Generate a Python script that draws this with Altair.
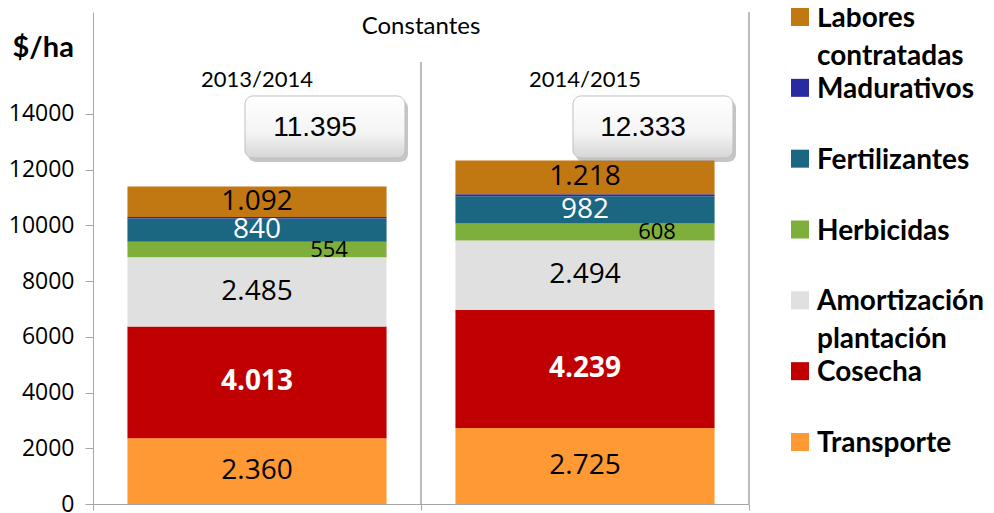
import altair as alt
import pandas as pd

years = ["2013/2014", "2014/2015"]
categories = ["Transporte", "Cosecha", "Amortización plantación", "Herbicidas",
              "Fertilizantes", "Madurativos", "Labores contratadas"]
values_1314 = [2360, 4013, 2485, 554, 840, 51, 1092]
values_1415 = [2725, 4239, 2494, 608, 982, 67, 1218]
totals = [11395, 12333]
total_labels = ["11.395", "12.333"]
colors = ["#FF9933", "#C00000", "#E0E0E0", "#7FAF3B", "#1B6680", "#2A2AA0", "#C27812"]
y_ticks = [0, 2000, 4000, 6000, 8000, 10000, 12000, 14000]
title_text = "Constantes"

rows = []
for yr, vals in zip(years, [values_1314, values_1415]):
    for i, (c, v) in enumerate(zip(categories, vals)):
        rows.append({"year": yr, "category": c, "value": v, "order": i})
df = pd.DataFrame(rows)
df_tot = pd.DataFrame({"year": years, "total": totals, "lbl": total_labels})
df_years = pd.DataFrame({"year": years})
df_title = pd.DataFrame({"year": [years[1]], "t": [title_text]})

Y_TOP = 17660
yscale = alt.Scale(domain=[0, Y_TOP], nice=False, zero=True)
xscale = alt.Scale(domain=years, paddingInner=0, paddingOuter=0)
GRAY = "#A6A6A6"
NUMFONT = "Open Sans"

xaxis = alt.Axis(labels=False, title=None, ticks=True, tickBand="extent", tickSize=6,
                 tickColor=GRAY, domainColor=GRAY, grid=False)
yaxis = alt.Axis(values=y_ticks, grid=False, domainColor=GRAY, tickColor=GRAY, tickSize=8,
                 labelFont=NUMFONT, labelFontSize=23, labelColor="black", labelPadding=11,
                 format="d", title="$/ha", titleAngle=0, titleX=-81, titleY=35,
                 titleAlign="left", titleBaseline="middle", titleFont="Lato",
                 titleFontSize=29, titleFontWeight="bold", titleColor="black")

X = alt.X("year:N", scale=xscale, axis=xaxis)
X0 = alt.X("year:N", scale=xscale, axis=xaxis, bandPosition=0)
X1 = alt.X("year:N", scale=xscale, axis=xaxis, bandPosition=1)
color = alt.Color("category:N", scale=alt.Scale(domain=categories, range=colors), legend=None)


def Yf(field):
    return alt.Y(field, scale=yscale, axis=yaxis)


def Yd(v):
    return alt.YDatum(v, scale=yscale, axis=yaxis)


base = alt.Chart(df).transform_stack(
    stack="value", groupby=["year"], as_=["y0", "y1"], sort=[alt.SortField("order")]
).transform_calculate(
    mid="(datum.y0 + datum.y1) / 2",
    lbl="replace(format(datum.value, ','), ',', '.')"
)

bars = base.mark_bar(width=alt.RelativeBandSize(0.79)).encode(
    x=X, y=Yf("y0:Q"), y2="y1:Q", color=color
)

Ymid = Yf("mid:Q")
txt_black = base.transform_filter(
    alt.FieldOneOfPredicate(field="category", oneOf=["Transporte", "Amortización plantación", "Labores contratadas"])
).mark_text(font=NUMFONT, fontSize=28, color="black", baseline="middle").encode(x=X, y=Ymid, text="lbl:N")
txt_white = base.transform_filter(alt.datum.category == "Fertilizantes").mark_text(
    font=NUMFONT, fontSize=28, color="white", baseline="middle").encode(x=X, y=Ymid, text="lbl:N")
txt_bold = base.transform_filter(alt.datum.category == "Cosecha").mark_text(
    font=NUMFONT, fontSize=28, fontWeight="bold", color="white", baseline="middle").encode(x=X, y=Ymid, text="lbl:N")
txt_herb = base.transform_filter(alt.datum.category == "Herbicidas").mark_text(
    font=NUMFONT, fontSize=22, color="black", baseline="middle", xOffset=72).encode(x=X, y=Ymid, text="lbl:N")

box_path = ("M -0.9 -0.3875 L 0.9 -0.3875 A 0.1 0.1 0 0 1 1 -0.2875 L 1 0.2875 "
            "A 0.1 0.1 0 0 1 0.9 0.3875 L -0.9 0.3875 A 0.1 0.1 0 0 1 -1 0.2875 "
            "L -1 -0.2875 A 0.1 0.1 0 0 1 -0.9 -0.3875 Z")
tot_base = alt.Chart(df_tot).transform_joinaggregate(maxT="max(total)").transform_calculate(
    by="datum.maxT + 1200")
Yby = Yf("by:Q")
shadow = tot_base.mark_point(shape=box_path, size=25600, filled=True, color="#7F7F7F",
                             opacity=0.45, xOffset=71, yOffset=4).encode(x=X, y=Yby)
grad = alt.LinearGradient(gradient="linear", x1=0, y1=0, x2=0, y2=1,
                          stops=[alt.GradientStop(color="#FFFFFF", offset=0),
                                 alt.GradientStop(color="#F4F4F4", offset=0.6),
                                 alt.GradientStop(color="#D6D6D6", offset=1)])
box = tot_base.mark_point(shape=box_path, size=25600, filled=True, fill=grad, opacity=1,
                          stroke="#BFBFBF", strokeWidth=1, xOffset=68).encode(x=X, y=Yby)
box_txt = tot_base.mark_text(font="Liberation Sans", fontSize=28, color="black",
                             baseline="middle", xOffset=58, dy=1).encode(x=X, y=Yby, text="lbl:N")

headers = alt.Chart(df_years).mark_text(font="Lato", fontSize=22, color="black",
                                        baseline="middle").encode(
    x=X, y=Yd(15220), text="year:N")
title = alt.Chart(df_title).mark_text(font="Lato", fontSize=24, color="black",
                                      baseline="middle").encode(
    x=X0, y=Yd(17120), text="t:N")

rule_mid = alt.Chart(df_title).mark_rule(color=GRAY, strokeWidth=1.5).encode(
    x=X0, y=Yd(15865), y2=alt.datum(0))
rule_right = alt.Chart(df_title).mark_rule(color=GRAY, strokeWidth=1.5).encode(
    x=X1, y=Yd(Y_TOP), y2=alt.datum(0))

main = alt.layer(bars, rule_mid, rule_right, txt_black, txt_white, txt_bold, txt_herb,
                 shadow, box, box_txt, headers, title).properties(width=656, height=492)

legend_order = categories[::-1]
leg_df = pd.DataFrame({"category": legend_order})
leg_y = alt.Y("category:N", scale=alt.Scale(domain=legend_order, range=[5, 430], padding=0), axis=None)
leg_sq = alt.Chart(leg_df).mark_square(size=324, filled=True, opacity=1).encode(
    x=alt.value(50), y=leg_y, color=color)
leg_txt = alt.Chart(leg_df).mark_text(align="left", baseline="alphabetic", dy=10, font="Lato",
                                      fontSize=28, fontWeight="bold", lineBreak=" ",
                                      lineHeight=38, color="black").encode(
    x=alt.value(67), y=leg_y, text="category:N")
legend = alt.layer(leg_sq, leg_txt).properties(width=225, height=492)

chart = alt.hconcat(main, legend, spacing=0).properties(
    padding={"left": 0, "top": -3, "right": 0, "bottom": 0}
).configure_view(stroke=None)

chart.save("out.html", embed_options={"renderer": "svg", "actions": False})
